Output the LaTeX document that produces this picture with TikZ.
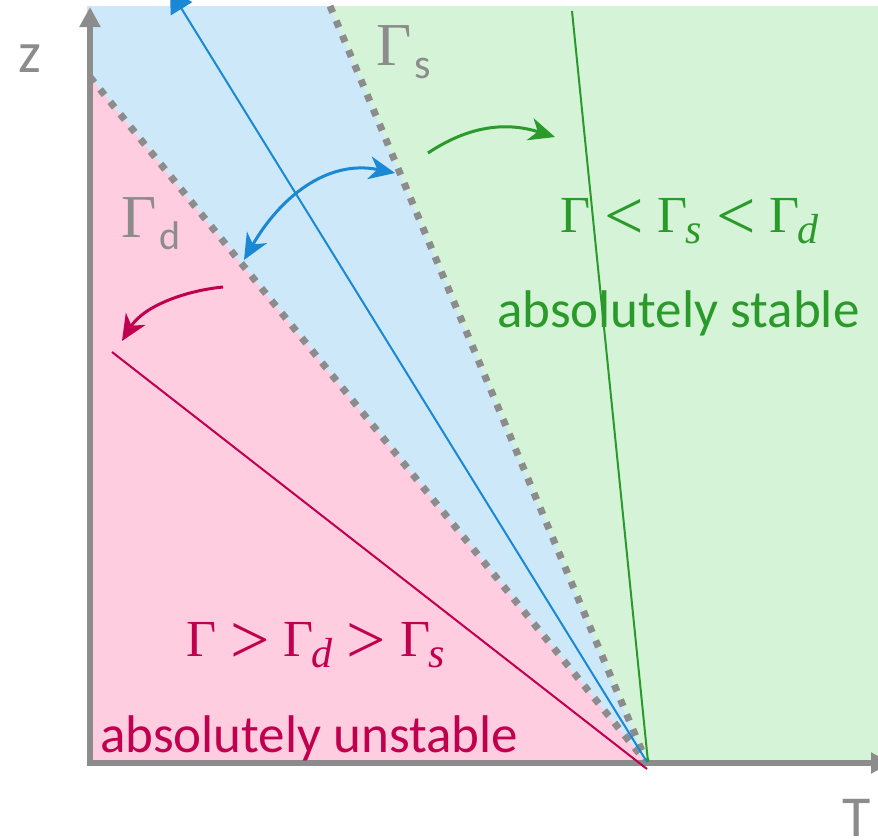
\documentclass[tikz,border=0pt]{standalone}
\usepackage{fontspec}
\setmainfont{Carlito}
\newfontfamily\mfont{Liberation Serif}
\usetikzlibrary{arrows.meta}
\definecolor{axisgrey}{HTML}{8C8C8C}
\definecolor{pinkfill}{HTML}{FFCCE0}
\definecolor{bluefill}{HTML}{CDE8F8}
\definecolor{greenfill}{HTML}{D5F3D6}
\definecolor{crim}{HTML}{C0004E}
\definecolor{grn}{HTML}{2A9A2A}
\definecolor{blu}{HTML}{1A88D4}
\newcommand{\gsubit}[1]{Γ\kern-2pt\raisebox{-11pt}{\fontsize{42}{44}\selectfont\itshape #1}}
\newcommand{\relgap}{\hspace{14pt}}
\newcommand{\relsym}[1]{\raisebox{-7pt}{\fontsize{70}{70}\selectfont #1}}
\begin{document}
\begin{tikzpicture}[x=1pt,y=-1pt,
  dotline/.style={axisgrey, line width=7pt, dash pattern=on 7pt off 9pt},
  thinline/.style={line width=2pt},
  curvarrow/.style={line width=3pt, -{Stealth[length=26pt,width=23pt,inset=8pt]}},
  dblarrow/.style={line width=3pt, {Stealth[length=26pt,width=23pt,inset=8pt]}-{Stealth[length=26pt,width=23pt,inset=8pt]}},
  axisline/.style={axisgrey, line width=6pt, -{Triangle[length=20pt,width=20pt]}},
  txt/.style={inner sep=0pt, anchor=base west},
  bigtext/.style={txt, font=\fontsize{53}{60}\selectfont},
  mathtext/.style={txt, font=\mfont\fontsize{52}{60}\selectfont}]
\useasboundingbox (0,0) rectangle (878,839);
\clip (0,0) rectangle (878,839);
% key points
\coordinate (O) at (647,763);
\coordinate (Dtop) at (90,77);
\coordinate (Stop) at (330,6);
\coordinate (TL) at (87,6);
\coordinate (TR) at (878,6);
\coordinate (BR) at (878,763);
\coordinate (BL) at (87,763);
% regions
\fill[pinkfill] (BL) -- (87,77) -- (Dtop) -- (O) -- cycle;
\fill[bluefill] (87,77) -- (TL) -- (Stop) -- (O) -- (Dtop) -- cycle;
\fill[greenfill] (Stop) -- (TR) -- (BR) -- (O) -- cycle;
% boundary lines
\draw[dotline] (Dtop) -- (O);
\draw[dotline] (Stop) -- (O);
% axes
\coordinate (xstart) at (87,763);
\coordinate (xend) at (891,763);
\coordinate (ystart) at (90,766);
\coordinate (yend) at (90,7);
\draw[axisline] (xstart) -- (xend);
\draw[axisline] (ystart) -- (yend);
% profile lines
\coordinate (Btip) at (170,-10);
\coordinate (Gtop) at (572,11);
\coordinate (Cbot) at (647,769);
\coordinate (Ctop) at (112,352);
\coordinate (Gbot) at (648,762);
\coordinate (Bbot) at (647,762);
\draw[blu, thinline, -{Triangle[length=22pt,width=25pt]}] (Bbot) -- (Btip);
\draw[grn, thinline] (Gbot) -- (Gtop);
\draw[crim, thinline] (Cbot) -- (Ctop);
% curved arrows
\coordinate (bA) at (244,260);
\coordinate (bB) at (395,173);
\draw[blu, dblarrow] (bA) .. controls (279,199) and (326,159) .. (bB);
\coordinate (gA) at (428,153);
\coordinate (gB) at (555,137);
\draw[grn, curvarrow] (gA) .. controls (470,125) and (507,122) .. (gB);
\coordinate (cA) at (223,287);
\coordinate (cB) at (122,341);
\draw[crim, curvarrow] (cA) .. controls (183,291) and (143,307) .. (cB);
% labels
\node[txt, axisgrey, font=\fontsize{58}{60}\selectfont] (zlab) at (18,72) {z};
\node[txt, axisgrey, font=\fontsize{58}{60}\selectfont] (tlab) at (842,836) {T};
\node[txt, axisgrey] (gs) at (376,65) {{\mfont\fontsize{61}{60}\selectfont Γ}\kern3pt\raisebox{-13pt}{\fontsize{42}{44}\selectfont s}};
\node[txt, axisgrey] (gd) at (121,237) {{\mfont\fontsize{61}{60}\selectfont Γ}\kern3pt\raisebox{-12pt}{\fontsize{40}{44}\selectfont d}};
\node[mathtext, grn] (stabmath) at (560,232) {Γ\relgap\relsym{<}\relgap\gsubit{s}\relgap\relsym{<}\relgap\gsubit{d}};
\node[bigtext, grn] (stabtxt) at (497,327) {absolutely stable};
\node[mathtext, crim] (unstmath) at (186,656) {Γ\relgap\relsym{>}\relgap\gsubit{d}\relgap\relsym{>}\relgap\gsubit{s}};
\node[bigtext, crim] (unsttxt) at (100,752) {absolutely unstable};
\end{tikzpicture}
\end{document}
